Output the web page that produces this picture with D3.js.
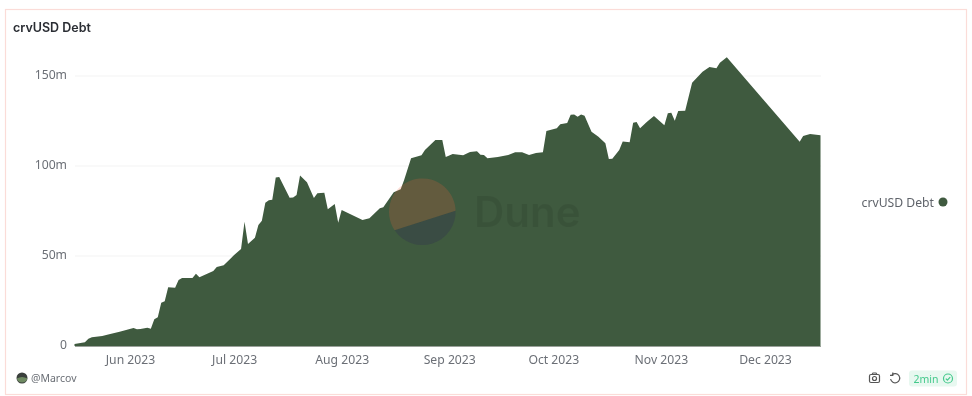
<!DOCTYPE html>
<html><head><meta charset="utf-8">
<script src="https://cdn.jsdelivr.net/npm/d3@7"></script>
<style>html,body{margin:0;padding:0;background:#fff}svg{display:block;filter:blur(0.35px)}
text{font-family:"Noto Sans","Open Sans",sans-serif}</style></head>
<body><svg id="c" width="972" height="396"></svg>
<script>
const title = "crvUSD Debt";
const seriesName = "crvUSD Debt";
const author = "@Marcov";
const ageLabel = "2min";
const brand = "Dune";
const dates = ["05-16","05-19","05-20","05-21","05-24","05-26","05-29","06-02","06-03","06-04","06-06","06-07","06-08","06-09","06-10","06-11","06-12","06-14","06-15","06-16","06-19","06-20","06-21","06-25","06-26","06-28","06-30","07-01","07-03","07-04","07-05","07-07","07-08","07-09","07-10","07-11","07-12","07-13","07-14","07-17","07-18","07-19","07-20","07-22","07-24","07-25","07-27","07-28","07-30","07-31","08-01","08-07","08-09","08-12","08-13","08-16","08-18","08-19","08-21","08-24","08-25","08-28","08-30","08-31","09-02","09-05","09-07","09-09","09-10","09-11","09-12","09-15","09-18","09-20","09-22","09-24","09-26","09-28","09-29","10-02","10-03","10-05","10-06","10-07","10-08","10-09","10-10","10-12","10-14","10-16","10-17","10-18","10-20","10-21","10-23","10-24","10-25","10-26","10-28","10-30","11-02","11-03","11-04","11-05","11-06","11-08","11-10","11-13","11-15","11-17","11-18","11-20","12-11","12-12","12-14","12-17"];
const debt = [0.8,1.8,3.8,4.6,5.3,6.2,7.7,9.7,9.0,9.2,9.9,9.3,14.6,15.7,23.8,24.6,32.3,32.1,36.4,37.5,37.5,39.9,37.9,41.4,43.6,44.6,48.4,50.3,53.6,68.8,56.4,59.9,66.9,69.3,79.3,80.7,81,93.4,93.6,82.1,82.2,83.6,94.4,90.7,81.9,84.6,84.9,75.7,78.6,68.2,75.3,69.7,70.7,76.2,76.8,85.1,86.8,91.9,104,105.7,108.6,114.2,114.2,104.7,106.4,105.7,107.5,107.9,106,105.8,104,104.7,105.8,107.3,107.3,105.8,106.9,107.3,119.2,120.7,122.9,123.6,128.2,128.4,127.1,128.4,127.7,118.8,116,112.3,103.6,103.8,108.6,113.4,112.9,123.8,124.2,120.7,124.3,127.5,122.3,129,129.3,124.9,130.3,130.4,146,152.1,154.7,154,157.1,160.1,113.2,116.4,117.5,116.8];
const monthTicks = ["2023-06-01","2023-07-01","2023-08-01","2023-09-01","2023-10-01","2023-11-01","2023-12-01"];
const yTicks = [0,50,100,150];
const yLabels = ["0","50m","100m","150m"];

const green = "#3f5a3f";
const svg = d3.select("#c");
const parse = d3.utcParse("%Y-%m-%d");
const data = dates.map((d,i)=>({date:parse("2023-"+d), v:debt[i]}));

svg.append("rect").attr("x",5.5).attr("y",9.5).attr("width",961).attr("height",385)
  .attr("fill","#fff").attr("stroke","#fbdcd8").attr("stroke-width",1.2);

svg.append("text").attr("x",13).attr("y",32).text(title)
  .attr("font-size",12.5).attr("font-weight",600).attr("fill","#2a2d33")
  .style("font-family","Inter,'Noto Sans',sans-serif");

const x = d3.scaleUtc().domain([parse("2023-05-16"),parse("2023-12-17")]).range([74.5,820.5]);
const y = d3.scaleLinear().domain([0,150]).range([345.5,75.5]);

const yAxis = d3.axisLeft(y).tickValues(yTicks).tickSize(0).tickPadding(8)
  .tickFormat((d,i)=>yLabels[i]);
const gy = svg.append("g").attr("transform","translate(75,0)").call(yAxis);
gy.select(".domain").remove();
gy.selectAll(".tick text").attr("font-size",12.2).attr("fill","#6b6f76").attr("y",-1).style("font-family",null);
gy.selectAll(".tick line").attr("x2",746).attr("stroke","#f3f3f3").attr("stroke-width",1);

const area = d3.area().x(d=>x(d.date)).y0(y(0)+0.5).y1(d=>y(d.v));
svg.append("path").datum(data).attr("d",area).attr("fill",green);

const xAxis = d3.axisBottom(x).tickValues(monthTicks.map(parse)).tickSize(0).tickPadding(9)
  .tickFormat(d3.utcFormat("%b %Y"));
const gx = svg.append("g").attr("transform","translate(0,346)").call(xAxis);
gx.select(".domain").attr("stroke","#9aa09a").attr("stroke-width",1);
gx.selectAll(".tick text").attr("font-size",12.2).attr("fill","#6b6f76").style("font-family",null);

// watermark
const wm = svg.append("g");
const cx=422.3, cy=211.7, r=33.3;
const a1 = Math.atan2(230-cy,395-cx), a2 = Math.atan2(210.7-cy,456-cx);
const px = a=>[cx+r*Math.cos(a), cy+r*Math.sin(a)];
const [x1,y1]=px(a1), [x2,y2]=px(a2);
wm.append("path").attr("d",`M${x1},${y1}A${r},${r} 0 1 1 ${x2},${y2}Z`).attr("fill","#f4603e").attr("opacity",0.2);
wm.append("path").attr("d",`M${x1},${y1}A${r},${r} 0 0 0 ${x2},${y2}Z`).attr("fill","#26155a").attr("opacity",0.2);
wm.append("text").attr("x",474).attr("y",227).text(brand).attr("font-size",42).attr("font-weight",600)
  .attr("fill","#000").attr("opacity",0.08).style("font-family","Inter,sans-serif");

// legend
svg.append("text").attr("x",934).attr("y",206.5).attr("text-anchor","end").text(seriesName)
  .attr("font-size",12.2).attr("fill","#5f636a");
svg.append("circle").attr("cx",943).attr("cy",202).attr("r",4.5).attr("fill",green);

// footer
svg.append("circle").attr("cx",22).attr("cy",378).attr("r",5.5).attr("fill","#3a3f3c");
svg.append("path").attr("d","M16.8,378.5Q22,375.5 27.4,378.5A5.5,5.5 0 0 1 16.8,378.5Z").attr("fill","#6f8a62");
svg.append("text").attr("x",31).attr("y",382).text(author).attr("font-size",10.5).attr("fill","#6b6f76");

const icons = svg.append("g").attr("fill","none").attr("stroke","#555").attr("stroke-width",1.2);
icons.append("rect").attr("x",869.5).attr("y",374.5).attr("width",10).attr("height",8).attr("rx",1.5);
icons.append("path").attr("d","M872,374.5l1,-1.5h3l1,1.5");
icons.append("circle").attr("cx",874.5).attr("cy",378.5).attr("r",2);
icons.append("path").attr("d","M892,374.8A4.6,4.6 0 1 1 890.6,379");
icons.append("path").attr("d","M892.8,372.6v2.8h-2.8").attr("stroke-width",1.2);

svg.append("rect").attr("x",909).attr("y",370.5).attr("width",48).attr("height",16).attr("rx",3).attr("fill","#e8f8f0");
svg.append("text").attr("x",913.5).attr("y",382.5).text(ageLabel).attr("font-size",10.5).attr("fill","#45c98c");
const chk = svg.append("g").attr("fill","none").attr("stroke","#45c98c").attr("stroke-width",1.2);
chk.append("circle").attr("cx",948).attr("cy",378.5).attr("r",4.5);
chk.append("path").attr("d","M945.8,378.6l1.6,1.6l2.8,-3");
</script></body></html>
